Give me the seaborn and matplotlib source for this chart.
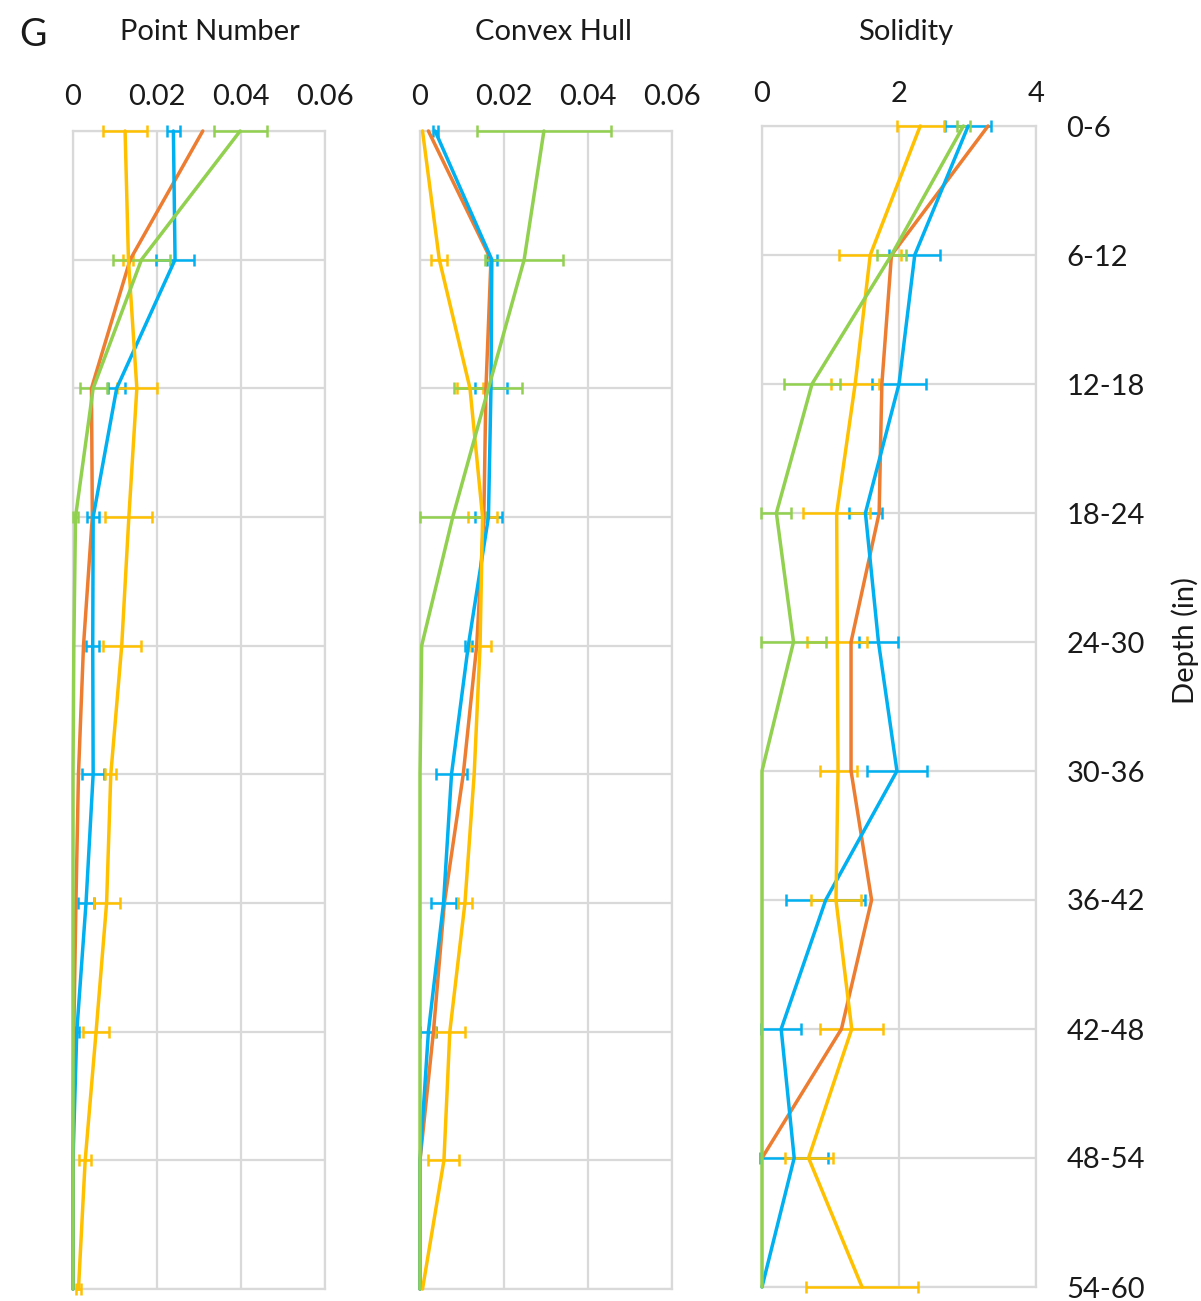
import numpy as np
import pandas as pd
import matplotlib
matplotlib.use("Agg")
import matplotlib.pyplot as plt
import seaborn as sns

sns.set_theme(style="white")
plt.rcParams["font.family"] = ["Lato", "DejaVu Sans"]

# Depth intervals (inches), top to bottom
depths = ["0-6", "6-12", "12-18", "18-24", "24-30", "30-36", "36-42", "42-48", "48-54", "54-60"]

nan = np.nan

# Point Number: means and error half-widths per series
pn_orange = [0.0309, 0.0136, 0.0044, 0.0046, 0.0025, 0.0013, 0.0007, 0.0002, 0.0, 0.0]
pn_blue = [0.0239, 0.0243, 0.0104, 0.0048, 0.0047, 0.0048, 0.0031, 0.0009, 0.0, 0.0]
pn_yellow = [0.0124, 0.0132, 0.0152, 0.0133, 0.0116, 0.0090, 0.0080, 0.0055, 0.0029, 0.0013]
pn_green = [0.0398, 0.0163, 0.0048, 0.0006, 0.0002, 0.0, 0.0, 0.0, 0.0, 0.0]
pn_blue_err = [0.0016, 0.0046, 0.0020, 0.0015, 0.0016, 0.0026, 0.0019, 0.0005, nan, nan]
pn_yellow_err = [0.0052, 0.0012, 0.0048, 0.0056, 0.0045, 0.0013, 0.0031, 0.0031, 0.0015, 0.0006]
pn_green_err = [0.0063, 0.0067, 0.0032, 0.0006, nan, nan, nan, nan, nan, nan]

# Convex Hull
ch_orange = [0.0020, 0.0169, 0.0157, 0.0152, 0.0135, 0.0103, 0.0058, 0.0032, 0.0, 0.0]
ch_blue = [0.0036, 0.0171, 0.0169, 0.0163, 0.0115, 0.0075, 0.0056, 0.0020, 0.0, 0.0]
ch_yellow = [0.0006, 0.0046, 0.0119, 0.0149, 0.0143, 0.0129, 0.0107, 0.0071, 0.0057, 0.0006]
ch_green = [0.0295, 0.0248, 0.0163, 0.0078, 0.0004, 0.0, 0.0, 0.0, 0.0, 0.0]
ch_blue_err = [0.0006, 0.0012, 0.0038, 0.0033, 0.0008, 0.0038, 0.0030, 0.0019, nan, nan]
ch_yellow_err = [nan, 0.0019, 0.0032, 0.0035, 0.0026, nan, 0.0017, 0.0035, 0.0037, nan]
ch_green_err = [0.0160, 0.0093, 0.0081, 0.0078, nan, nan, nan, nan, nan, nan]

# Solidity
so_orange = [3.30, 1.89, 1.75, 1.71, 1.30, 1.30, 1.60, 1.16, 0.0, nan]
so_blue = [3.01, 2.23, 2.00, 1.51, 1.70, 1.97, 0.93, 0.28, 0.47, 0.0]
so_yellow = [2.31, 1.58, 1.36, 1.09, 1.10, 1.11, 1.08, 1.31, 0.68, 1.46]
so_green = [2.94, 1.89, 0.73, 0.21, 0.46, 0.0, 0.0, 0.0, 0.0, 0.0]
so_blue_err = [0.34, 0.37, 0.39, 0.24, 0.29, 0.44, 0.58, 0.29, 0.50, nan]
so_yellow_err = [0.34, 0.45, 0.35, 0.49, 0.44, 0.27, 0.36, 0.46, 0.35, 0.82]
so_green_err = [0.10, 0.21, 0.41, 0.22, 0.48, nan, nan, nan, nan, nan]

pn_ticks = [0, 0.02, 0.04, 0.06]
pn_ticklabels = ["0", "0.02", "0.04", "0.06"]
so_ticks = [0, 2, 4]
so_ticklabels = ["0", "2", "4"]

colors = {"orange": "#ED7D31", "blue": "#00B0F0", "yellow": "#FFC000", "green": "#92D050"}
order = ["orange", "blue", "yellow", "green"]

W, H = 1201, 1301
fig = plt.figure(figsize=(W / 100, H / 100), dpi=100)
text_color = "#1a1a1a"
grid_color = "#D9D9D9"


def add_ax(left, right, top, bottom):
    return fig.add_axes([left / W, 1 - bottom / H, (right - left) / W, (bottom - top) / H])


def draw_panel(ax, series, errors, xlim, ticks, ticklabels):
    pos = np.arange(len(depths))
    rows = []
    for name in order:
        for p, v in zip(pos, series[name]):
            rows.append({"pos": p, "value": v, "series": name})
    df = pd.DataFrame(rows).dropna()

    for name in order:
        err = errors.get(name)
        if err is None:
            continue
        vals = np.array(series[name], dtype=float)
        e = np.array(err, dtype=float)
        m = ~np.isnan(e) & ~np.isnan(vals)
        ax.errorbar(vals[m], pos[m], xerr=e[m], fmt="none", ecolor=colors[name],
                    elinewidth=1.8, capsize=4, capthick=1.8, clip_on=False, zorder=3)

    sns.lineplot(data=df, x="value", y="pos", hue="series", hue_order=order,
                 palette=colors, orient="y", estimator=None, sort=True,
                 linewidth=2.5, legend=False, ax=ax, zorder=4)
    for ln in ax.get_lines():
        ln.set_clip_on(False)

    ax.set_xlim(*xlim)
    ax.set_ylim(len(depths) - 1, 0)
    ax.set_xticks(ticks)
    ax.set_xticklabels(ticklabels)
    ax.set_yticks(pos)
    ax.xaxis.tick_top()
    ax.tick_params(axis="x", length=0, pad=15, labelsize=21, colors=text_color)
    ax.tick_params(axis="y", length=0)
    ax.grid(True, color=grid_color, linewidth=1.6)
    ax.set_axisbelow(True)
    for sp in ax.spines.values():
        sp.set_color(grid_color)
        sp.set_linewidth(1.6)
        sp.set_zorder(1)
    ax.set_xlabel("")
    ax.set_ylabel("")


ax1 = add_ax(73, 325, 131, 1289)
ax2 = add_ax(420, 672, 131, 1289)
ax3 = add_ax(762, 1036, 126, 1287)

draw_panel(ax1,
           {"orange": pn_orange, "blue": pn_blue, "yellow": pn_yellow, "green": pn_green},
           {"blue": pn_blue_err, "yellow": pn_yellow_err, "green": pn_green_err},
           (0, 0.06), pn_ticks, pn_ticklabels)
draw_panel(ax2,
           {"orange": ch_orange, "blue": ch_blue, "yellow": ch_yellow, "green": ch_green},
           {"blue": ch_blue_err, "yellow": ch_yellow_err, "green": ch_green_err},
           (0, 0.06), pn_ticks, pn_ticklabels)
draw_panel(ax3,
           {"orange": so_orange, "blue": so_blue, "yellow": so_yellow, "green": so_green},
           {"blue": so_blue_err, "yellow": so_yellow_err, "green": so_green_err},
           (0, 4), so_ticks, so_ticklabels)

ax1.set_yticklabels([])
ax2.set_yticklabels([])
ax3.yaxis.tick_right()
ax3.set_yticklabels(depths)
ax3.tick_params(axis="y", pad=22, labelsize=21, colors=text_color)
ax3.tick_params(axis="x", pad=14)

fig.text(33 / W, 1 - 35 / H, "G", fontsize=27, ha="center", va="center", color=text_color)
fig.text(210 / W, 1 - 32 / H, "Point Number", fontsize=21, ha="center", va="center", color=text_color)
fig.text(553 / W, 1 - 32 / H, "Convex Hull", fontsize=21, ha="center", va="center", color=text_color)
fig.text(906 / W, 1 - 32 / H, "Solidity", fontsize=21, ha="center", va="center", color=text_color)
fig.text(1185 / W, 1 - 640 / H, "Depth (in)", fontsize=21, rotation=90,
         ha="center", va="center", color=text_color)

fig.savefig("out.png", dpi=100, facecolor="white")
